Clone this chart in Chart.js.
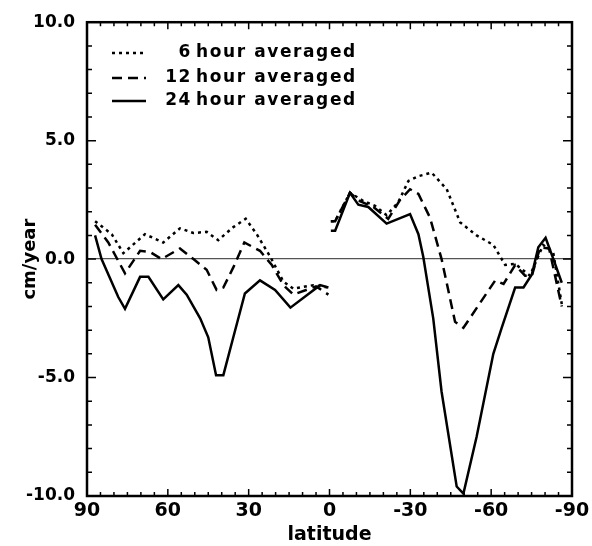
<!DOCTYPE html>
<html lang="en">
<head>
    <meta charset="UTF-8">
    <title>cm/year vs latitude</title>
    <script src="https://cdn.jsdelivr.net/npm/chart.js"></script>
    <style>
        html, body { margin: 0; padding: 0; background: #fff; }
        #wrap { width: 592px; height: 546px; }
    </style>
</head>
<body>
    <div id="wrap"><canvas id="latChart"></canvas></div>

    <script>
// values, north half (90 -> 0) and south half (0 -> -90)
const lat6N = [87, 80.8, 76.5, 68.5, 61.7, 55.5, 50.5, 45.6, 41.3, 35.7, 31.1, 27, 22, 17.1, 13.4, 6, 0.4];
const val6N = [1.6, 1.05, 0.25, 1.05, 0.7, 1.3, 1.1, 1.15, 0.8, 1.35, 1.7, 1.05, 0.1, -0.95, -1.25, -1.1, -1.2];
const lat6S = [-0.5, -2.1, -7.6, -12.6, -16.9, -21.2, -25.5, -29.3, -33, -37.9, -43.5, -48.5, -54.6, -60.8, -65.2, -68.9, -74.4, -79.3, -83, -86.2];
const val6S = [1.6, 1.6, 2.8, 2.45, 2.25, 1.85, 2.4, 3.3, 3.5, 3.65, 2.95, 1.55, 1.0, 0.6, -0.25, -0.2, -0.7, 0.6, 0.3, -1.9];

const lat12N = [87, 82.1, 75.9, 70.3, 66.6, 62.3, 55.5, 50.5, 45.6, 41.9, 39.4, 35.7, 31.6, 25.8, 21.4, 17.1, 13.4, 5, 0.4];
const val12N = [1.45, 0.7, -0.6, 0.35, 0.3, 0.0, 0.45, 0.0, -0.45, -1.3, -1.2, -0.35, 0.7, 0.35, -0.25, -1.1, -1.5, -1.15, -1.5];
const lat12S = [-0.5, -2.1, -7.6, -11.3, -16.3, -21.8, -26.2, -29.9, -33, -37.3, -41.6, -46.6, -49.7, -61.5, -64.6, -68.9, -72.6, -75.1, -78.2, -81.5, -86.2];
const val12S = [1.6, 1.6, 2.8, 2.45, 2.2, 1.7, 2.5, 2.95, 2.75, 1.75, 0.0, -2.65, -2.9, -0.9, -1.05, -0.25, -0.7, -0.7, 0.5, 0.45, -2.0];

const lat24N = [87, 84.6, 78.4, 75.9, 70.3, 67.2, 61.7, 56.1, 53, 48, 45, 42.1, 39.4, 35.7, 31.4, 25.8, 20.2, 14.5, 3.5, 0.4];
const val24N = [1.0, 0, -1.6, -2.1, -0.75, -0.75, -1.7, -1.1, -1.5, -2.5, -3.3, -4.9, -4.9, -3.3, -1.45, -0.9, -1.3, -2.05, -1.1, -1.2];
const lat24S = [-0.5, -2.1, -7.6, -10.7, -14.4, -21.2, -29.9, -33, -34.8, -38.5, -41.6, -47.2, -49.7, -54.6, -60.8, -63.9, -68.9, -72, -75.1, -77.5, -80.2, -83.1, -86.2];
const val24S = [1.2, 1.2, 2.8, 2.3, 2.2, 1.5, 1.9, 1.05, 0.1, -2.5, -5.6, -9.6, -9.9, -7.5, -4.0, -2.9, -1.2, -1.2, -0.65, 0.5, 0.9, 0.0, -1.0];

const seriesNames = ['6 hour averaged', '12 hour averaged', '24 hour averaged'];
const xTickLabels = [90, 60, 30, 0, -30, -60, -90];
const yTickLabels = [-10, -5, 0, 5, 10];

const FONT = 'DejaVu Sans';

// join the two halves, with a null so the line breaks at the equator
function halves(latN, valN, latS, valS) {
    const pts = latN.map((x, i) => ({ x: x, y: valN[i] }));
    pts.push({ x: 0, y: null });
    return pts.concat(latS.map((x, i) => ({ x: x, y: valS[i] })));
}

// inward ticks + frame, like the old plot package did
const frameTicks = {
    id: 'frameTicks',
    afterDraw(chart) {
        const { ctx, chartArea: a, scales } = chart;
        const xs = scales.x, ys = scales.y;
        ctx.save();
        ctx.strokeStyle = '#000';
        ctx.setLineDash([]);
        ctx.lineWidth = 1.5;
        ctx.beginPath();
        for (let v = -90; v <= 90; v += 5) {
            const px = xs.getPixelForValue(v);
            const len = v % 30 === 0 ? 7 : 4;
            ctx.moveTo(px, a.bottom); ctx.lineTo(px, a.bottom - len);
            ctx.moveTo(px, a.top); ctx.lineTo(px, a.top + len);
        }
        for (let v = -10; v <= 10; v += 1) {
            const py = ys.getPixelForValue(v);
            const len = v % 5 === 0 ? 9 : 5;
            ctx.moveTo(a.left, py); ctx.lineTo(a.left + len, py);
            ctx.moveTo(a.right, py); ctx.lineTo(a.right - len, py);
        }
        ctx.stroke();
        ctx.lineWidth = 2.5;
        ctx.strokeRect(a.left, a.top, a.right - a.left, a.bottom - a.top);
        ctx.restore();
    }
};

// legend box in the upper left corner
const cornerLegend = {
    id: 'cornerLegend',
    afterDatasetsDraw(chart) {
        const ctx = chart.ctx;
        const rows = [53, 78, 101];
        ctx.save();
        ctx.fillStyle = '#000';
        ctx.textBaseline = 'middle';
        ctx.font = 'bold 17px ' + FONT;
        chart.data.datasets.forEach((ds, i) => {
            const y = rows[i];
            ctx.strokeStyle = '#000';
            ctx.lineWidth = ds.borderWidth;
            ctx.setLineDash(ds.borderDash || []);
            ctx.beginPath();
            ctx.moveTo(112, y); ctx.lineTo(146, y);
            ctx.stroke();
            const parts = seriesNames[i].split(' ');
            ctx.letterSpacing = '1.6px';
            ctx.textAlign = 'right';
            ctx.fillText(parts[0], 192, y);
            ctx.textAlign = 'left';
            ctx.fillText(parts.slice(1).join(' '), 196, y);
        });
        ctx.restore();
    }
};

const ctx = document.getElementById('latChart').getContext('2d');
const chart = new Chart(ctx, {
    type: 'line',
    data: {
        datasets: [{
            label: seriesNames[0],
            data: halves(lat6N, val6N, lat6S, val6S),
            borderColor: '#000',
            borderWidth: 2.5,
            borderDash: [3, 4],
            pointRadius: 0,
            tension: 0
        }, {
            label: seriesNames[1],
            data: halves(lat12N, val12N, lat12S, val12S),
            borderColor: '#000',
            borderWidth: 2.5,
            borderDash: [10, 6],
            pointRadius: 0,
            tension: 0
        }, {
            label: seriesNames[2],
            data: halves(lat24N, val24N, lat24S, val24S),
            borderColor: '#000',
            borderWidth: 2.5,
            pointRadius: 0,
            tension: 0
        }]
    },
    options: {
        responsive: true,
        maintainAspectRatio: false,
        animation: false,
        spanGaps: false,
        layout: { padding: { top: 18, right: 20, left: 0, bottom: 0 } },
        plugins: {
            legend: { display: false },
            tooltip: { enabled: false }
        },
        scales: {
            x: {
                type: 'linear',
                min: -90,
                max: 90,
                reverse: true,
                afterBuildTicks: s => { s.ticks = xTickLabels.map(v => ({ value: v })); },
                afterFit: s => { s.height = 50; },
                ticks: {
                    color: '#000',
                    font: { family: FONT, size: 19, weight: 'bold' },
                    padding: -4,
                    maxRotation: 0,
                    callback: v => String(v)
                },
                grid: { display: false },
                border: { display: false },
                title: {
                    display: true,
                    text: 'latitude',
                    color: '#000',
                    font: { family: FONT, size: 19, weight: 'bold' },
                    padding: { top: 0, bottom: 0 }
                }
            },
            y: {
                min: -10,
                max: 10,
                afterBuildTicks: s => { s.ticks = yTickLabels.map(v => ({ value: v })); },
                afterFit: s => { s.width = 87; },
                ticks: {
                    color: '#000',
                    font: { family: FONT, size: 17, weight: 'bold' },
                    padding: 12,
                    callback: v => v.toFixed(1)
                },
                grid: {
                    drawTicks: false,
                    color: c => (c.tick && c.tick.value === 0) ? '#555' : 'rgba(0,0,0,0)',
                    lineWidth: 1.3
                },
                border: { display: false },
                title: {
                    display: true,
                    text: 'cm/year',
                    color: '#000',
                    font: { family: FONT, size: 18, weight: 'bold' },
                    padding: { top: 20, bottom: 0 }
                }
            }
        }
    },
    plugins: [frameTicks, cornerLegend]
});
    </script>
</body>
</html>
